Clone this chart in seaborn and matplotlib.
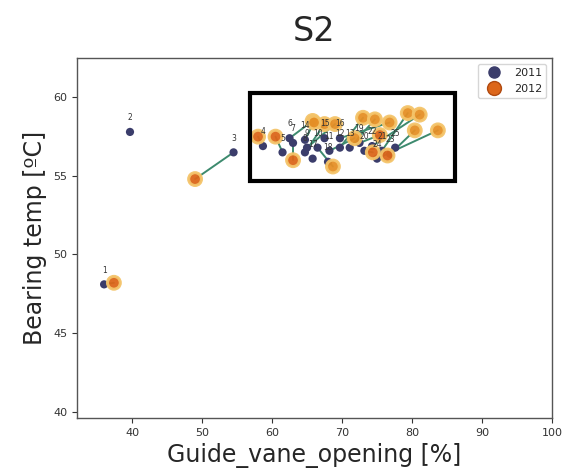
import numpy as np
import pandas as pd
import matplotlib
matplotlib.use("Agg")
import matplotlib.pyplot as plt
import matplotlib.patches as mpatches
from matplotlib.lines import Line2D
import seaborn as sns

# ---- data ----
unit_ids = list(range(1, 26))
gvo_2011 = [36.0, 39.7, 54.5, 58.7, 61.5, 62.5, 63.0, 64.7, 65.0, 66.5, 68.2,
            69.7, 71.1, 64.7, 67.5, 69.7, 65.8, 68.0, 72.5, 73.2, 75.7, 74.3,
            76.9, 75.0, 77.6]
temp_2011 = [48.1, 57.8, 56.5, 56.9, 56.5, 57.4, 57.1, 56.5, 56.8, 56.8, 56.6,
             56.8, 56.8, 57.3, 57.4, 57.4, 56.1, 55.9, 57.1, 56.6, 56.6, 56.9,
             56.4, 56.1, 56.8]
gvo_2012 = [37.4, np.nan, 49.0, 58.0, 60.5, 65.8, 63.0, 67.5, 69.0, 68.7, 71.8,
            73.0, 74.7, 66.0, np.nan, 76.8, np.nan, np.nan, 75.4, 74.4, 79.4,
            81.1, 80.4, 83.7, 76.5]
temp_2012 = [48.2, np.nan, 54.8, 57.5, 57.5, 58.5, 56.0, 58.3, 58.3, 55.6, 57.4,
             58.7, 58.6, 58.4, np.nan, 58.4, np.nan, np.nan, 57.6, 56.5, 59.0,
             58.9, 57.9, 57.9, 56.3]
phase_2012 = ["a", "a", "a", "a", "a", "b", "a", "b", "b", "b", "b",
              "b", "b", "b", "b", "b", "b", "b", "a", "a", "b", "b",
              "b", "b", "a"]
years = ["2011", "2012"]
x_ticks = [40, 50, 60, 70, 80, 90, 100]
y_ticks = [40, 45, 50, 55, 60]

df11 = pd.DataFrame({"id": unit_ids, "gvo": gvo_2011, "temp": temp_2011})
df12 = pd.DataFrame({"id": unit_ids, "gvo": gvo_2012, "temp": temp_2012,
                     "phase": phase_2012}).dropna()

sns.set_style("ticks")
fig = plt.figure(figsize=(5.69, 4.76), dpi=100)
ax = fig.add_axes([0.135, 0.122, 0.835, 0.756])

# connecting lines
for i in range(len(unit_ids)):
    if np.isnan(gvo_2012[i]):
        continue
    ax.plot([gvo_2011[i], gvo_2012[i]], [temp_2011[i], temp_2012[i]],
            color="#3d8a6e", lw=1.4, zorder=1)

# 2011 points
sns.scatterplot(data=df11, x="gvo", y="temp", color="#3b3d6b", s=35,
                edgecolor="none", ax=ax, zorder=2, legend=False)
# 2012 points
sns.scatterplot(data=df12, x="gvo", y="temp", hue="phase",
                palette={"a": "#dc661a", "b": "#e58f26"}, s=85,
                edgecolor="#f4c46a", linewidth=2.2, ax=ax, zorder=3,
                legend=False, alpha=0.95)

for i, uid in enumerate(unit_ids):
    ax.annotate(str(uid), (gvo_2011[i], temp_2011[i]), xytext=(0, 7),
                textcoords="offset points", ha="center", va="bottom",
                fontsize=5.5, color="#333333", zorder=4)

ax.add_patch(mpatches.Rectangle((56.8, 54.7), 29.4, 5.6, fill=False,
                                edgecolor="black", lw=3, zorder=5))

ax.set_xlim(32.1, 100)
ax.set_ylim(39.6, 62.5)
ax.set_xticks(x_ticks)
ax.set_yticks(y_ticks)
ax.tick_params(labelsize=8, colors="#333333")
for sp in ax.spines.values():
    sp.set_color("#555555")
    sp.set_linewidth(1.0)

ax.set_xlabel("Guide_vane_opening [%]", fontsize=17)
ax.set_ylabel("Bearing temp [ºC]", fontsize=17)
ax.set_title("S2", fontsize=24, pad=12)

handles = [Line2D([], [], marker="o", ls="", color="#3b3d6b", markersize=8,
                  label=years[0]),
           Line2D([], [], marker="o", ls="", markerfacecolor="#dc661a",
                  markeredgecolor="#b04a10", markersize=10, label=years[1])]
ax.legend(handles=handles, loc="upper right", fontsize=8, frameon=True)

fig.savefig("out.png", dpi=100)
